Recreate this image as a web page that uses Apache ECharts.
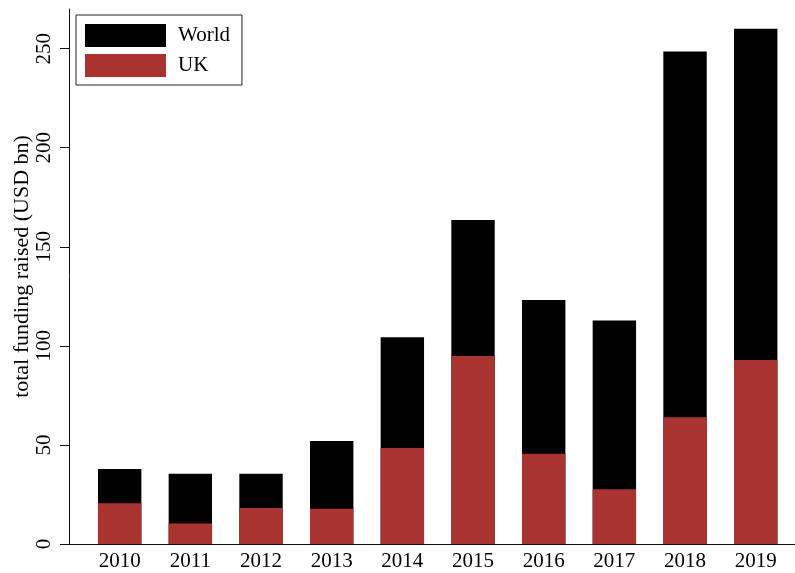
<!DOCTYPE html>
<html>
<head>
<meta charset="utf-8">
<style>
  html, body { margin: 0; padding: 0; background: #ffffff; }
  #chart { width: 795px; height: 573px; }
</style>
<script src="https://cdn.jsdelivr.net/npm/echarts@6/dist/echarts.min.js"></script>
</head>
<body>
<div id="chart"></div>
<script>
// Funding raised per year, world total and the UK share of it (USD bn)
const years = [2010, 2011, 2012, 2013, 2014, 2015, 2016, 2017, 2018, 2019];
const worldFunding = [37.9, 35.4, 35.4, 52.0, 104.4, 163.5, 123.1, 112.8, 248.6, 260.0];
const ukFunding = [20.6, 10.3, 18.2, 17.8, 48.5, 94.9, 45.5, 27.6, 64.0, 92.8];
const yTicks = [0, 50, 100, 150, 200, 250];

const serif = 'Liberation Serif';
const barRed = '#a93330';

const chart = echarts.init(document.getElementById('chart'), null, { renderer: 'canvas' });

chart.setOption({
  backgroundColor: '#ffffff',
  animation: false,
  textStyle: { fontFamily: serif, color: '#000' },
  grid: {
    left: 69, right: 0, top: 9, bottom: 29,
    containLabel: false,
    outerBoundsMode: 'none'
  },
  legend: {
    orient: 'vertical',
    left: 76,
    top: 15,
    padding: [9, 12, 8, 9],
    itemGap: 7,
    itemWidth: 81,
    itemHeight: 23,
    icon: 'rect',
    borderColor: '#222',
    borderWidth: 1,
    textStyle: { fontFamily: serif, fontSize: 21, color: '#000', padding: [0, 0, 0, 7] },
    data: ['World', 'UK']
  },
  xAxis: {
    type: 'value',
    min: 2009.283,
    max: 2019.556,
    splitLine: { show: false },
    axisLine: { show: true, lineStyle: { color: '#111', width: 1 } },
    axisTick: { show: false, customValues: years },
    axisLabel: {
      customValues: years,
      fontFamily: serif,
      fontSize: 21,
      color: '#000',
      margin: 7,
      formatter: v => String(v)
    }
  },
  yAxis: {
    type: 'value',
    min: 0,
    max: 270,
    name: 'total funding raised (USD bn)',
    nameLocation: 'middle',
    nameRotate: 90,
    nameGap: 36,
    nameMoveOverlap: false,
    nameTextStyle: { fontFamily: serif, fontSize: 22, color: '#000', padding: [0, 0, 0, 20] },
    splitLine: { show: false },
    axisLine: { show: true, lineStyle: { color: '#111', width: 1 } },
    axisTick: { show: true, length: 9, customValues: yTicks, lineStyle: { color: '#111' } },
    axisLabel: {
      customValues: yTicks,
      rotate: 90,
      fontFamily: serif,
      fontSize: 21,
      color: '#000',
      margin: 14
    }
  },
  series: [
    {
      name: 'World',
      type: 'bar',
      barWidth: 43.4,
      barGap: '-100%',
      itemStyle: { color: '#000000' },
      data: years.map((y, i) => [y, worldFunding[i]])
    },
    {
      name: 'UK',
      type: 'bar',
      barWidth: 43.4,
      barGap: '-100%',
      itemStyle: { color: barRed },
      data: years.map((y, i) => [y, ukFunding[i]])
    }
  ]
});
</script>
</body>
</html>
